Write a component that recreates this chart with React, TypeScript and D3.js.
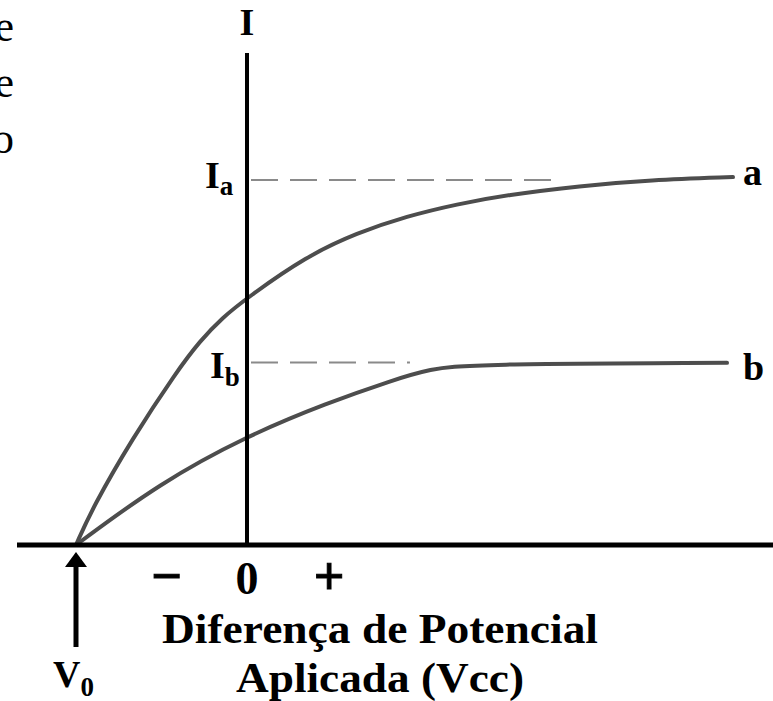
import React from "react";
import * as d3 from "d3";

// Curve a: current vs applied potential (units: V relative to V0 = -1, I relative to Ia = 1)
const curveAV = [-1.0, -0.901, -0.673, -0.409, -0.275, -0.146, 0.0, 0.351, 0.643, 0.936, 1.228, 1.52, 1.947, 2.357, 2.842];
const curveAI = [0.0, 0.104, 0.29, 0.477, 0.559, 0.622, 0.677, 0.792, 0.855, 0.901, 0.934, 0.959, 0.984, 1.0, 1.008];

// Curve b: lower intensity, saturates at Ib = 0.5
const curveBV = [-1.0, -0.509, 0.0, 0.468, 0.854, 1.07, 1.304, 2.807];
const curveBI = [0.0, 0.17, 0.299, 0.389, 0.452, 0.482, 0.496, 0.499];

// Saturation levels and how far their guide lines run
const levelNames = ["a", "b"];
const levelValues = [1.0, 0.5];
const levelGuideEnds = [1.813, 0.953];

// Tick marks on the potential axis
const tickValues = [-0.47, 0, 0.48];
const tickLabels = ["\u2212", "0", "+"];

const V0 = -1;

// Fragments of neighbouring text at the left margin
const marginFragments = ["e", "e", "o"];

const W = 773;
const H = 701;

export default function App() {
  const x = d3.scaleLinear().domain([-1.345, 3.076]).range([17, 773]);
  const y = d3.scaleLinear().domain([0, 1.348]).range([545, 53]);

  const line = d3
    .line<[number, number]>()
    .x((d) => x(d[0]))
    .y((d) => y(d[1]))
    .curve(d3.curveBasis);

  const dataA: [number, number][] = curveAV.map((v, i) => [v, curveAI[i]]);
  const dataB: [number, number][] = curveBV.map((v, i) => [v, curveBI[i]]);
  const curves = [dataA, dataB];

  const serif = "'Liberation Serif', 'Times New Roman', serif";
  const ink = "#000";
  const curveColor = "#4d4d4d";

  return (
    <svg
      width={W}
      height={H}
      viewBox={`0 0 ${W} ${H}`}
      style={{ position: "absolute", left: 0, top: 0, background: "#fff" }}
      fontFamily={serif}
    >
      {/* margin fragments */}
      {marginFragments.map((t, i) => (
        <text key={i} x={14} y={41 + i * 56} fontSize={44} textAnchor="end" fill={ink}>
          {t}
        </text>
      ))}

      {/* saturation guide lines */}
      {levelValues.map((lv, i) => (
        <line
          key={i}
          x1={x(0) + 4}
          x2={x(levelGuideEnds[i])}
          y1={y(lv)}
          y2={y(lv)}
          stroke="#8a8a8a"
          strokeWidth={2}
          strokeDasharray="27 12"
        />
      ))}

      {/* curves */}
      {curves.map((d, i) => (
        <path key={i} d={line(d) || ""} fill="none" stroke={curveColor} strokeWidth={4} strokeLinecap="round" />
      ))}

      {/* axes */}
      <line x1={x.range()[0]} x2={x.range()[1]} y1={y(0)} y2={y(0)} stroke={ink} strokeWidth={5} />
      <line x1={x(0)} x2={x(0)} y1={y.range()[1]} y2={y(0) + 2} stroke={ink} strokeWidth={4} />

      {/* axis title I */}
      <text x={x(0)} y={35} fontSize={38} fontWeight="bold" textAnchor="middle" fill={ink}>
        I
      </text>

      {/* level labels on the current axis */}
      <text x={x(0) - 42} y={y(levelValues[0]) + 8} fontSize={38} fontWeight="bold" fill={ink}>
        I<tspan dy={7} fontSize={27}>a</tspan>
      </text>
      <text x={x(0) - 37} y={y(levelValues[1]) + 15} fontSize={38} fontWeight="bold" fill={ink}>
        I<tspan dy={8} fontSize={27}>b</tspan>
      </text>

      {/* curve end labels */}
      {curves.map((d, i) => (
        <text
          key={i}
          x={743}
          y={y(d[d.length - 1][1]) + (i === 0 ? 8 : 17)}
          fontSize={38}
          fontWeight="bold"
          fill={ink}
        >
          {levelNames[i]}
        </text>
      ))}

      {/* ticks */}
      {tickValues.map((t, i) => (
        <text
          key={i}
          x={x(t)}
          y={594}
          fontSize={i === 1 ? 46 : 54}
          fontWeight="bold"
          textAnchor="middle"
          fill={ink}
          stroke={i === 1 ? "none" : ink}
          strokeWidth={1}
        >
          {tickLabels[i]}
        </text>
      ))}

      {/* V0 arrow */}
      <line x1={x(V0)} x2={x(V0)} y1={647} y2={562} stroke={ink} strokeWidth={5} />
      <path
        d={`M${x(V0)},${552} L${x(V0) + 11},${567} L${x(V0) - 11},${567} Z`}
        fill={ink}
      />
      <text x={x(V0) - 23} y={687} fontSize={38} fontWeight="bold" fill={ink}>
        V<tspan dy={9} fontSize={27}>0</tspan>
      </text>

      {/* potential axis title */}
      <text x={380} y={643} fontSize={42} fontWeight="bold" textAnchor="middle" textLength={436} lengthAdjust="spacingAndGlyphs" fill={ink}>
        Diferença de Potencial
      </text>
      <text x={380} y={692} fontSize={42} fontWeight="bold" textAnchor="middle" textLength={288} lengthAdjust="spacingAndGlyphs" fill={ink}>
        Aplicada (Vcc)
      </text>
    </svg>
  );
}
